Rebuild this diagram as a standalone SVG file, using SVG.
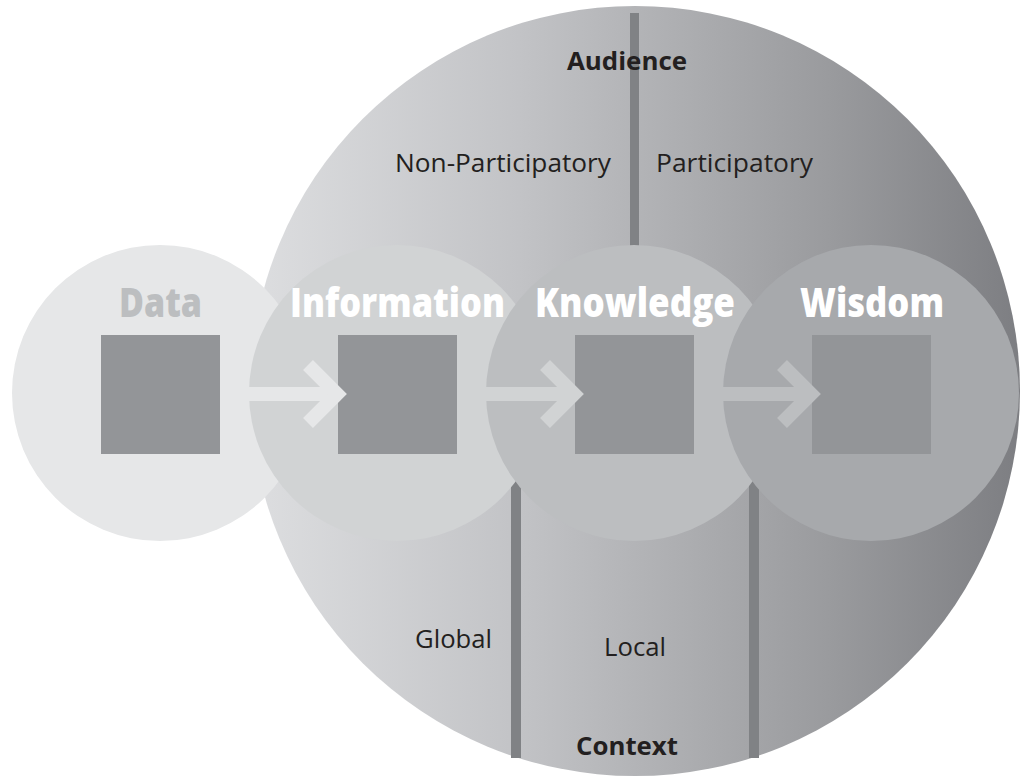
<svg xmlns="http://www.w3.org/2000/svg" width="1024" height="777" viewBox="0 0 1024 777">
  <defs>
    <linearGradient id="bigGrad" gradientUnits="userSpaceOnUse" x1="250" y1="0" x2="1020" y2="0">
      <stop offset="0" stop-color="#dddee0"/>
      <stop offset="0.35" stop-color="#c2c3c6"/>
      <stop offset="0.5" stop-color="#b3b4b7"/>
      <stop offset="0.75" stop-color="#9a9b9e"/>
      <stop offset="1" stop-color="#7d7e82"/>
    </linearGradient>
  </defs>
  <style>
    .sq { fill: #939598; }
    .div { fill: #808285; }
    .title { font-family: "Open Sans", "Liberation Sans", sans-serif; font-weight: 800; font-size: 40px; fill: #ffffff; }
    .axis { font-family: "Open Sans", "Liberation Sans", sans-serif; font-weight: 700; font-size: 25px; fill: #231f20; }
    .lbl { font-family: "Open Sans", "Liberation Sans", sans-serif; font-weight: 400; font-size: 26px; fill: #231f20; }
    .arrow { fill: none; stroke-width: 14; stroke-linejoin: miter; stroke-linecap: butt; }
  </style>

  <!-- Big backdrop circle -->
  <circle id="backdrop" cx="635" cy="391" r="385" fill="url(#bigGrad)"/>

  <!-- Divider bars -->
  <g id="dividers">
    <rect class="div" x="630" y="13" width="9" height="249"/>
    <rect class="div" x="511" y="470" width="10" height="288"/>
    <rect class="div" x="749" y="470" width="10" height="288"/>
  </g>

  <!-- Nodes -->
  <g id="node-data">
    <circle cx="160" cy="393" r="148" fill="#e6e7e8"/>
    <rect class="sq" x="101" y="335" width="119" height="119"/>
  </g>
  <g id="node-information">
    <circle cx="397" cy="393" r="148" fill="#d1d3d4"/>
    <rect class="sq" x="338" y="335" width="119" height="119"/>
  </g>
  <g id="node-knowledge">
    <circle cx="634" cy="393" r="148" fill="#bcbec0"/>
    <rect class="sq" x="575" y="335" width="119" height="119"/>
  </g>
  <g id="node-wisdom">
    <circle cx="871" cy="393" r="148" fill="#a7a9ac"/>
    <rect class="sq" x="812" y="335" width="119" height="119"/>
  </g>

  <!-- Connectors -->
  <g id="connectors">
    <g stroke="#e6e7e8">
      <line class="arrow" x1="220" y1="394" x2="334" y2="394"/>
      <polyline class="arrow" points="308,365 337,394 308,423"/>
    </g>
    <g stroke="#d1d3d4">
      <line class="arrow" x1="457" y1="394" x2="571" y2="394"/>
      <polyline class="arrow" points="545,365 574,394 545,423"/>
    </g>
    <g stroke="#bcbec0">
      <line class="arrow" x1="694" y1="394" x2="808" y2="394"/>
      <polyline class="arrow" points="782,365 811,394 782,423"/>
    </g>
  </g>

  <!-- Node titles -->
  <g id="titles">
    <text class="title" x="119" y="317" textLength="83" lengthAdjust="spacingAndGlyphs" style="fill:#bcbec0">Data</text>
    <text class="title" x="290" y="317" textLength="215" lengthAdjust="spacingAndGlyphs">Information</text>
    <text class="title" x="535" y="317" textLength="200" lengthAdjust="spacingAndGlyphs">Knowledge</text>
    <text class="title" x="800" y="317" textLength="144" lengthAdjust="spacingAndGlyphs">Wisdom</text>
  </g>

  <!-- Axis labels -->
  <g id="labels">
    <text class="axis" x="567" y="70" textLength="120" lengthAdjust="spacingAndGlyphs">Audience</text>
    <text class="lbl" x="395" y="172" textLength="216" lengthAdjust="spacingAndGlyphs">Non-Participatory</text>
    <text class="lbl" x="656" y="172" textLength="157" lengthAdjust="spacingAndGlyphs">Participatory</text>
    <text class="lbl" x="415" y="648" textLength="77" lengthAdjust="spacingAndGlyphs">Global</text>
    <text class="lbl" x="604" y="656" textLength="62" lengthAdjust="spacingAndGlyphs">Local</text>
    <text class="axis" x="576" y="755" textLength="102" lengthAdjust="spacingAndGlyphs">Context</text>
  </g>
</svg>
